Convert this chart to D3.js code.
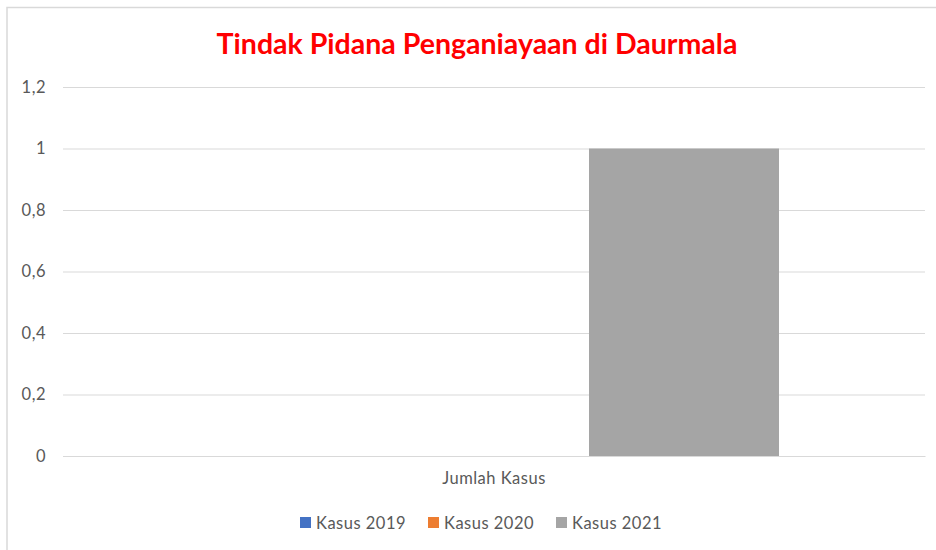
<!DOCTYPE html>
<html><head><meta charset="utf-8">
<script src="https://cdn.jsdelivr.net/npm/d3@7"></script>
<style>body{margin:0;background:#fff}svg{display:block}</style>
</head><body>
<svg id="c" width="936" height="550"></svg>
<script>
const title = "Tindak Pidana Penganiayaan di Daurmala";
const categories = ["Jumlah Kasus"];
const seriesNames = ["Kasus 2019", "Kasus 2020", "Kasus 2021"];
const seriesValues = [[0], [0], [1]];
const seriesColors = ["#4472c4", "#ed7d31", "#a5a5a5"];
const yTicks = [0, 0.2, 0.4, 0.6, 0.8, 1, 1.2];

const svg = d3.select("#c");
const font = "Lato, 'Open Sans', sans-serif";
const W = 936, H = 550;
const m = {left: 63, right: 11, top: 87, bottom: 94};
const pw = W - m.left - m.right, ph = H - m.top - m.bottom;

// frame
svg.append("rect").attr("x", 7).attr("y", 7.5).attr("width", W + 10).attr("height", H + 10)
  .attr("fill", "none").attr("stroke", "#d9d9d9").attr("stroke-width", 1.5);

const y = d3.scaleLinear().domain([0, 1.2]).range([m.top + ph, m.top]);
const x0 = d3.scaleBand().domain(categories).range([m.left, m.left + pw]).paddingInner(0).paddingOuter(0);
const groupFrac = 570 / pw;
const x1 = d3.scaleBand().domain(seriesNames)
  .range([0, x0.bandwidth()]).paddingOuter((1 - groupFrac) / 2 / (groupFrac / 3)).paddingInner(0);

const fmt = v => String(v).replace(".", ",");
const fs = "16.5px";
const ls = "0.5px";
const yAxis = d3.axisLeft(y).tickValues(yTicks).tickFormat(fmt).tickSize(-pw).tickPadding(17);
const gy = svg.append("g").attr("transform", `translate(${m.left},0)`).call(yAxis);
gy.select(".domain").remove();
gy.selectAll(".tick line").attr("stroke", "#d9d9d9").attr("stroke-width", 1);
gy.selectAll(".tick text").attr("fill", "#595959").style("font-family", font).style("font-size", fs).style("letter-spacing", ls);

const g = svg.append("g");
categories.forEach((c, ci) => {
  seriesNames.forEach((s, si) => {
    const v = seriesValues[si][ci];
    g.append("rect").attr("x", x0(c) + x1(s)).attr("width", x1.bandwidth())
      .attr("y", y(v)).attr("height", y(0) - y(v)).attr("fill", seriesColors[si]);
  });
});

const xAxis = d3.axisBottom(x0).tickSize(0).tickPadding(16);
const gx = svg.append("g").attr("transform", `translate(0,${y(0)})`).call(xAxis);
gx.select(".domain").attr("stroke", "#d9d9d9");
gx.selectAll(".tick text").attr("fill", "#595959").style("font-family", font).style("font-size", fs).style("letter-spacing", ls);

// title
const t = svg.append("text").attr("x", 477).attr("y", 54).attr("text-anchor", "middle")
  .attr("fill", "#ff0000").style("font-family", font).style("font-weight", "bold").style("font-size", "24px").text(title);
const tw = t.node().getComputedTextLength();
t.style("font-size", (24 * 521 / tw).toFixed(2) + "px");

// legend
const legX = [300, 428, 556];
const lg = svg.append("g");
seriesNames.forEach((s, i) => {
  lg.append("rect").attr("x", legX[i]).attr("y", 517).attr("width", 11).attr("height", 11).attr("fill", seriesColors[i]);
  lg.append("text").attr("x", legX[i] + 16).attr("y", 529).attr("fill", "#595959")
    .style("font-family", font).style("font-size", fs).style("letter-spacing", ls).text(s);
});
</script>
</body></html>
